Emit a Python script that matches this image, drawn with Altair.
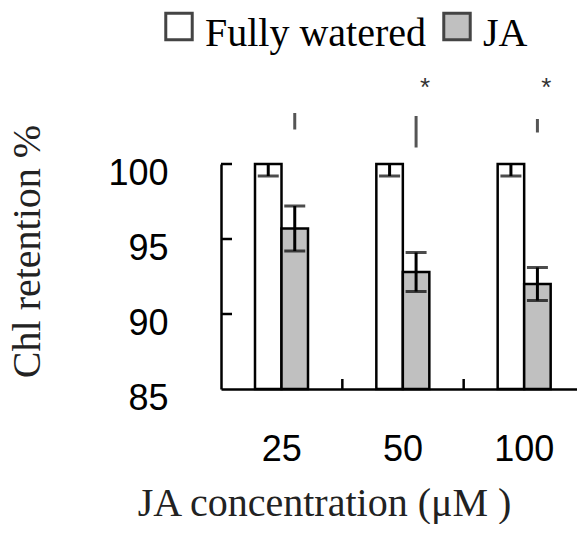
import altair as alt
import pandas as pd

conc = ["25", "50", "100"]
series = ["Fully watered", "JA"]
fully_vals = [100.0, 100.0, 100.0]
fully_err = [0.8, 0.8, 0.8]
ja_vals = [95.7, 92.8, 92.0]
ja_err = [1.5, 1.3, 1.1]
y_ticks = [85, 90, 95, 100]
inner_ticks = [90, 95, 100]
mark_conc = ["25", "50", "100"]
mark_lo = [102.3, 101.1, 102.1]
mark_hi = [103.4, 103.2, 103.0]
star_conc = ["50", "100"]
star_y = [105.07, 105.07]

W, H = 356, 225
XR = 364
NB = "\u00a0"

rows = []
for c, v, e in zip(conc, fully_vals, fully_err):
    rows.append({"conc": c, "series": series[0], "value": v, "lo": v - e, "hi": v + e})
for c, v, e in zip(conc, ja_vals, ja_err):
    rows.append({"conc": c, "series": series[1], "value": v, "lo": v - e, "hi": v + e})
df = pd.DataFrame(rows)
caps = pd.concat([
    df[["conc", "series"]].assign(cap=df["lo"]),
    df[["conc", "series"]].assign(cap=df["hi"]),
])
df_marks = pd.DataFrame({"conc": mark_conc, "series": "JA", "lo": mark_lo, "hi": mark_hi})
df_star = pd.DataFrame({"conc": star_conc, "series": "JA", "y": star_y})

xscale = alt.Scale(range=[0, XR], paddingInner=0, paddingOuter=0)
xaxis = alt.Axis(
    title="JA concentration (μM )", labelAngle=0, ticks=False, tickSize=0, grid=False,
    labelPadding=43, labelFont="Liberation Sans", labelFontSize=36, labelColor="black",
    titleFont="Liberation Serif", titleFontSize=40, titleFontWeight="normal", titleColor="#222",
    titleX=103, titleY=126, titleAlign="center", titleBaseline="alphabetic",
    domainColor="black", domainWidth=2.5,
)
xenc = alt.X("conc:N", sort=conc, scale=xscale, axis=xaxis)
xoff = alt.XOffset("series:N", sort=series,
                   scale=alt.Scale(range=[34, 87], paddingInner=0, paddingOuter=0))

ysc = alt.Scale(domain=[85, 100], nice=False, zero=False)
yaxis = alt.Axis(
    values=y_ticks, title="Chl retention %", ticks=False, tickSize=0, grid=False,
    labelPadding=53, labelFont="Liberation Sans", labelFontSize=36, labelColor="black",
    labelOffset=9, labelBaseline="middle",
    titleFont="Liberation Serif", titleFontSize=40, titleFontWeight="normal", titleColor="#222",
    titleAngle=270, titleX=-182, titleY=87, titleAlign="center", titleBaseline="alphabetic",
    domainColor="black", domainWidth=2.5,
)

bars = alt.Chart(df).mark_bar(stroke="black", strokeWidth=2.5).encode(
    x=xenc, xOffset=xoff,
    y=alt.Y("value:Q", scale=ysc, axis=yaxis),
    y2=alt.datum(85),
    color=alt.Color("series:N", sort=series,
                    scale=alt.Scale(domain=series, range=["white", "#c0c0c0"]),
                    legend=alt.Legend(title=None, orient="none", legendX=-62, legendY=-150,
                                      direction="horizontal",
                                      symbolType="M-1,-1.57H1V0.43H-1Z", symbolSize=700,
                                      symbolStrokeColor="#444", symbolStrokeWidth=3,
                                      labelFont="Liberation Serif", labelFontSize=40,
                                      labelColor="black", labelOffset=6, columnPadding=10,
                                      labelExpr="datum.label == 'JA' ? '" + NB + NB + "JA' : datum.label",
                                      padding=0, labelLimit=0)),
)

err = alt.Chart(df).mark_rule(clip=True, color="black", strokeWidth=3).encode(
    x=xenc, xOffset=xoff,
    y=alt.Y("lo:Q", scale=ysc, axis=yaxis), y2="hi:Q",
)
capm = alt.Chart(caps).mark_tick(clip=True, color="black", thickness=3, size=21, orient="horizontal").encode(
    x=xenc, xOffset=xoff,
    y=alt.Y("cap:Q", scale=ysc, axis=yaxis),
)

ytick = alt.Chart(pd.DataFrame({"t": inner_ticks})).mark_rule(color="black", strokeWidth=2.5).encode(
    x=alt.value(0), x2=alt.value(11),
    y=alt.Y("t:Q", scale=ysc, axis=yaxis),
)
xtick = alt.Chart(pd.DataFrame({"conc": conc})).mark_rule(color="black", strokeWidth=2.5).encode(
    x=alt.X("conc:N", sort=conc, scale=xscale, axis=xaxis, bandPosition=1),
    y=alt.value(H), y2=alt.value(H - 10),
)

sig = alt.Chart(df_marks).mark_rule(color="#555", strokeWidth=3).encode(
    x=xenc, xOffset=xoff,
    y=alt.Y("lo:Q", scale=ysc, axis=yaxis), y2="hi:Q",
)
star = alt.Chart(df_star).mark_text(text="*", font="Liberation Sans", fontSize=26, dx=9,
                                     baseline="middle", color="#333").encode(
    x=xenc, xOffset=xoff,
    y=alt.Y("y:Q", scale=ysc, axis=yaxis),
)

chart = alt.layer(bars, err, capm, ytick, xtick, sig, star).properties(
    width=W, height=H,
    autosize=alt.AutoSizeParams(type="none"),
    padding={"left": 213, "top": 156, "right": 0, "bottom": 135},
    background="white",
).configure_view(stroke=None)

chart.save("out.html", embed_options={"renderer": "svg", "actions": False})
